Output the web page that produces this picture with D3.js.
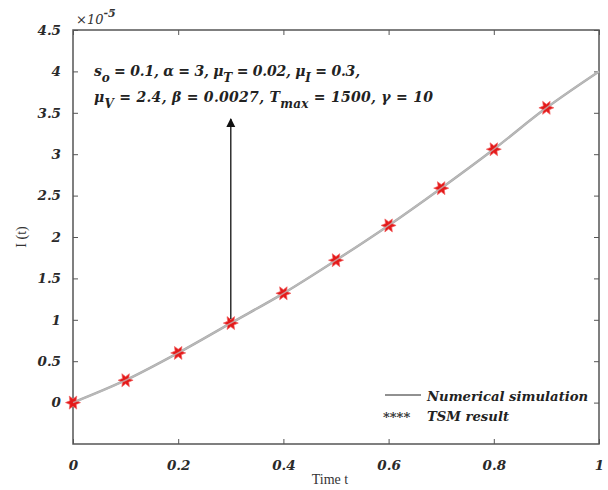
<!DOCTYPE html>
<html><head><meta charset="utf-8">
<script src="https://cdn.jsdelivr.net/npm/d3@7"></script>
<style>body{margin:0;background:#fff}</style>
</head><body>
<script>
const timeT = [0, 0.1, 0.2, 0.3, 0.4, 0.5, 0.6, 0.7, 0.8, 0.9, 1.0];
const numericalI = [0, 0.27, 0.60, 0.96, 1.32, 1.72, 2.14, 2.59, 3.06, 3.56, 4.0];
const tsmT = [0, 0.1, 0.2, 0.3, 0.4, 0.5, 0.6, 0.7, 0.8, 0.9];
const tsmI = [0, 0.27, 0.60, 0.96, 1.32, 1.72, 2.14, 2.59, 3.06, 3.56];
const xTicks = [0, 0.2, 0.4, 0.6, 0.8, 1];
const xTickLabels = ["0", "0.2", "0.4", "0.6", "0.8", "1"];
const yTicks = [0, 0.5, 1, 1.5, 2, 2.5, 3, 3.5, 4, 4.5];
const yTickLabels = ["0", "0.5", "1", "1.5", "2", "2.5", "3", "3.5", "4", "4.5"];
const legendLabels = ["Numerical simulation", "TSM result"];

const W = 608, H = 490;
const m = {l: 73, r: 9, t: 30, b: 46};
const svg = d3.select("body").append("svg").attr("width", W).attr("height", H);
const x = d3.scaleLinear().domain([0, 1]).range([m.l, W - m.r]);
const y = d3.scaleLinear().domain([-0.5, 4.5]).range([H - m.b, m.t]);
const FONT = "'DejaVu Serif', Georgia, serif";
const axCol = "#555";

svg.append("rect").attr("x", m.l).attr("y", m.t).attr("width", W - m.r - m.l).attr("height", H - m.b - m.t)
  .attr("fill", "none").attr("stroke", axCol).attr("stroke-width", 1.5);

const tl = 5;
const lblStyle = s => s.attr("font-family", FONT).attr("font-weight", "bold").attr("font-style", "italic")
  .attr("font-size", 13.5).attr("fill", "#2a2a2a");

const xAxB = svg.append("g").attr("transform", `translate(0,${H - m.b})`)
  .call(d3.axisBottom(x).tickValues(xTicks).tickSizeInner(-tl).tickSizeOuter(0).tickPadding(14)
    .tickFormat((d, i) => xTickLabels[i]));
const xAxT = svg.append("g").attr("transform", `translate(0,${m.t})`)
  .call(d3.axisTop(x).tickValues(xTicks).tickSizeInner(-tl).tickSizeOuter(0).tickFormat(""));
const yAxL = svg.append("g").attr("transform", `translate(${m.l},0)`)
  .call(d3.axisLeft(y).tickValues(yTicks).tickSizeInner(-tl).tickSizeOuter(0).tickPadding(12)
    .tickFormat((d, i) => yTickLabels[i]));
const yAxR = svg.append("g").attr("transform", `translate(${W - m.r},0)`)
  .call(d3.axisRight(y).tickValues(yTicks).tickSizeInner(-tl).tickSizeOuter(0).tickFormat(""));
[xAxB, xAxT, yAxL, yAxR].forEach(g => {
  g.select(".domain").remove();
  g.selectAll(".tick line").attr("stroke", axCol).attr("stroke-width", 1);
  g.selectAll(".tick text").call(lblStyle);
});
xAxB.selectAll(".tick text").attr("dy", "0.9em");

const ex = svg.append("text").attr("x", 76).attr("y", 24).attr("font-family", FONT)
  .attr("font-style", "italic").attr("font-size", 13).attr("fill", "#333");
ex.append("tspan").text("×10");
ex.append("tspan").attr("dy", -7).attr("font-size", 11).attr("font-weight", "bold").text("-5");

svg.append("text").attr("x", 330).attr("y", 484).attr("text-anchor", "middle")
  .attr("font-family", "'Liberation Serif', serif").attr("font-size", 14).attr("fill", "#333").text("Time t");
svg.append("text").attr("transform", `translate(26,${y(2)}) rotate(-90)`).attr("text-anchor", "middle")
  .attr("font-family", "'Liberation Serif', serif").attr("font-size", 14).attr("fill", "#333").text("I (t)");

const line = d3.line().x((d, i) => x(timeT[i])).y(d => y(d)).curve(d3.curveMonotoneX);
svg.append("path").datum(numericalI).attr("d", line).attr("fill", "none")
  .attr("stroke", "#a8a8a8").attr("stroke-width", 2.5);

// six-pointed star marker
function hexagram(ro, ri) {
  const pts = [];
  for (let k = 0; k < 12; k++) {
    const a = -Math.PI / 2 + k * Math.PI / 6;
    const r = k % 2 ? ri : ro;
    pts.push([r * Math.cos(a), r * Math.sin(a)]);
  }
  return "M" + pts.map(p => p[0].toFixed(2) + "," + p[1].toFixed(2)).join("L") + "Z";
}
svg.append("g").selectAll("path").data(tsmI).join("path")
  .attr("transform", (d, i) => `translate(${x(tsmT[i])},${y(d)}) rotate(30)`)
  .attr("d", hexagram(7.5, 3.6)).attr("fill", "#e41a1a").attr("stroke", "#f26060").attr("stroke-width", 0.6);
svg.append("path").datum(numericalI).attr("d", line).attr("fill", "none")
  .attr("stroke", "#c0c0c0").attr("stroke-width", 1.4).attr("opacity", 0.7);

svg.append("defs").append("marker").attr("id", "ah").attr("viewBox", "0 0 10 10").attr("refX", 9).attr("refY", 5)
  .attr("markerWidth", 7).attr("markerHeight", 9).attr("orient", "auto")
  .append("path").attr("d", "M0,0 L10,5 L0,10 Z").attr("fill", "#111");
svg.append("line").attr("x1", x(0.3)).attr("y1", y(tsmI[3]) - 4).attr("x2", x(0.3)).attr("y2", 119)
  .attr("stroke", "#111").attr("stroke-width", 1.3).attr("marker-end", "url(#ah)");

function eqLine(yy, len, parts) {
  const t = svg.append("text").attr("x", 94).attr("y", yy).attr("font-family", FONT)
    .attr("font-weight", "bold").attr("font-style", "italic").attr("font-size", 14).attr("fill", "#222")
    .attr("textLength", len).attr("lengthAdjust", "spacing");
  parts.forEach(p => {
    if (p.sub) {
      t.append("tspan").attr("dy", 6).attr("font-size", 12).text(p.sub);
      t.append("tspan").attr("dy", -6).text(p.after);
    } else t.append("tspan").text(p.t);
  });
}
eqLine(76, 266, [{t: "s"}, {sub: "o", after: " = 0.1, α = 3, μ"}, {sub: "T", after: " = 0.02, μ"}, {sub: "I", after: " = 0.3,"}]);
eqLine(102, 339, [{t: "μ"}, {sub: "V", after: " = 2.4, β = 0.0027, T"}, {sub: "max", after: " = 1500, γ = 10"}]);

const lg = svg.append("g");
lg.append("line").attr("x1", 385).attr("x2", 421).attr("y1", 395).attr("y2", 395).attr("stroke", "#222").attr("stroke-width", 1);
lg.append("text").attr("x", 383).attr("y", 422).attr("font-family", FONT).attr("font-weight", "bold")
  .attr("font-size", 13).attr("fill", "#333").text("****");
legendLabels.forEach((s, i) => {
  lg.append("text").attr("x", 427).attr("y", 401 + i * 20).attr("font-family", FONT)
    .attr("font-weight", "bold").attr("font-style", "italic").attr("font-size", 13.2).attr("fill", "#222").text(s);
});
</script>
</body></html>
